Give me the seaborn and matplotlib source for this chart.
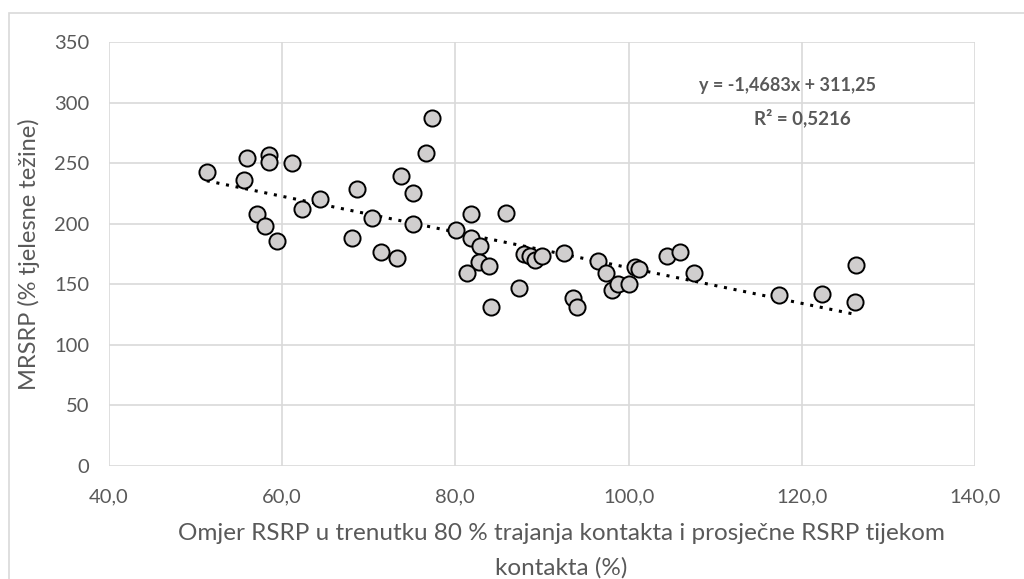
import matplotlib
matplotlib.use("Agg")
import matplotlib.pyplot as plt
import matplotlib.ticker as mticker
from matplotlib.patches import Rectangle
import numpy as np
import pandas as pd
import seaborn as sns

# values
omjer = [51.3, 55.9, 55.6, 58.5, 58.5, 61.1, 57.1, 58.0, 59.4, 62.3,
         64.4, 68.1, 68.7, 70.4, 71.4, 73.3, 73.7, 75.1, 75.1, 76.6,
         77.3, 80.1, 81.8, 85.8, 81.8, 82.8, 82.7, 83.9, 81.3, 87.4,
         84.1, 87.9, 88.6, 89.2, 90.0, 92.5, 93.6, 94.1, 96.5, 97.4,
         98.1, 98.8, 100.0, 100.8, 101.2, 104.4, 105.9, 107.5, 117.4, 122.3,
         126.3, 126.1]
mrsrp = [243, 254, 236, 257, 251, 250, 208, 198, 186, 212,
         220, 188, 229, 205, 177, 172, 239, 225, 200, 258,
         287, 195, 208, 209, 188, 182, 168, 165, 159, 147,
         131, 175, 173, 170, 173, 176, 139, 131, 169, 159,
         145, 150, 150, 164, 163, 173, 177, 159, 141, 142,
         166, 135]
df = pd.DataFrame({"omjer": omjer, "mrsrp": mrsrp})

xlabel = "Omjer RSRP u trenutku 80 % trajanja kontakta i prosječne RSRP tijekom\nkontakta (%)"
ylabel = "MRSRP (% tjelesne težine)"
eq_line = "y = -1,4683x + 311,25"
r2_line = "R² = 0,5216"

sns.set_style("whitegrid", {"grid.color": "#D9D9D9"})
plt.rcParams["font.family"] = ["Lato", "DejaVu Sans"]

fig = plt.figure(figsize=(10.24, 5.79), dpi=100)
ax = fig.add_axes([0.1064, 0.1951, 0.8457, 0.7324])

sns.regplot(data=df, x="omjer", y="mrsrp", ax=ax, scatter=False, ci=None,
            truncate=True,
            line_kws=dict(color="black", linestyle=(0, (1, 2.2)), linewidth=2.2))
sns.scatterplot(data=df, x="omjer", y="mrsrp", ax=ax, s=135,
                color="#D0CECE", edgecolor="black", linewidth=1.4, zorder=3)

ax.set_xlim(40, 140)
ax.set_ylim(0, 350)
ax.xaxis.set_major_locator(mticker.MultipleLocator(20))
ax.yaxis.set_major_locator(mticker.MultipleLocator(50))
ax.xaxis.set_major_formatter(mticker.FuncFormatter(lambda v, p: f"{v:.1f}".replace(".", ",")))
ax.tick_params(axis="both", labelsize=14.5, colors="#595959", length=0)
ax.tick_params(axis="x", pad=16)
ax.tick_params(axis="y", pad=14)
for s in ax.spines.values():
    s.set_visible(False)
ax.grid(True, color="#D9D9D9", linewidth=1.2)

ax.set_xlabel(xlabel, fontsize=17.5, color="#595959", linespacing=1.75)
ax.xaxis.set_label_coords(0.522, -0.135)
ax.set_ylabel(ylabel, fontsize=17, color="#595959", labelpad=10)

ax.text(118.4, 314, eq_line, fontsize=13, fontweight="bold", color="#595959",
        ha="center", va="center")
ax.text(120.1, 287, r2_line, fontsize=13.5, fontweight="bold", color="#595959",
        ha="center", va="center")

fig.patches.append(Rectangle((9 / 1024, -0.1), 1.2, 1 - 13 / 579 + 0.1,
                             transform=fig.transFigure, fill=False,
                             edgecolor="#D9D9D9", linewidth=1.2))

plt.savefig("out.png", dpi=100)
